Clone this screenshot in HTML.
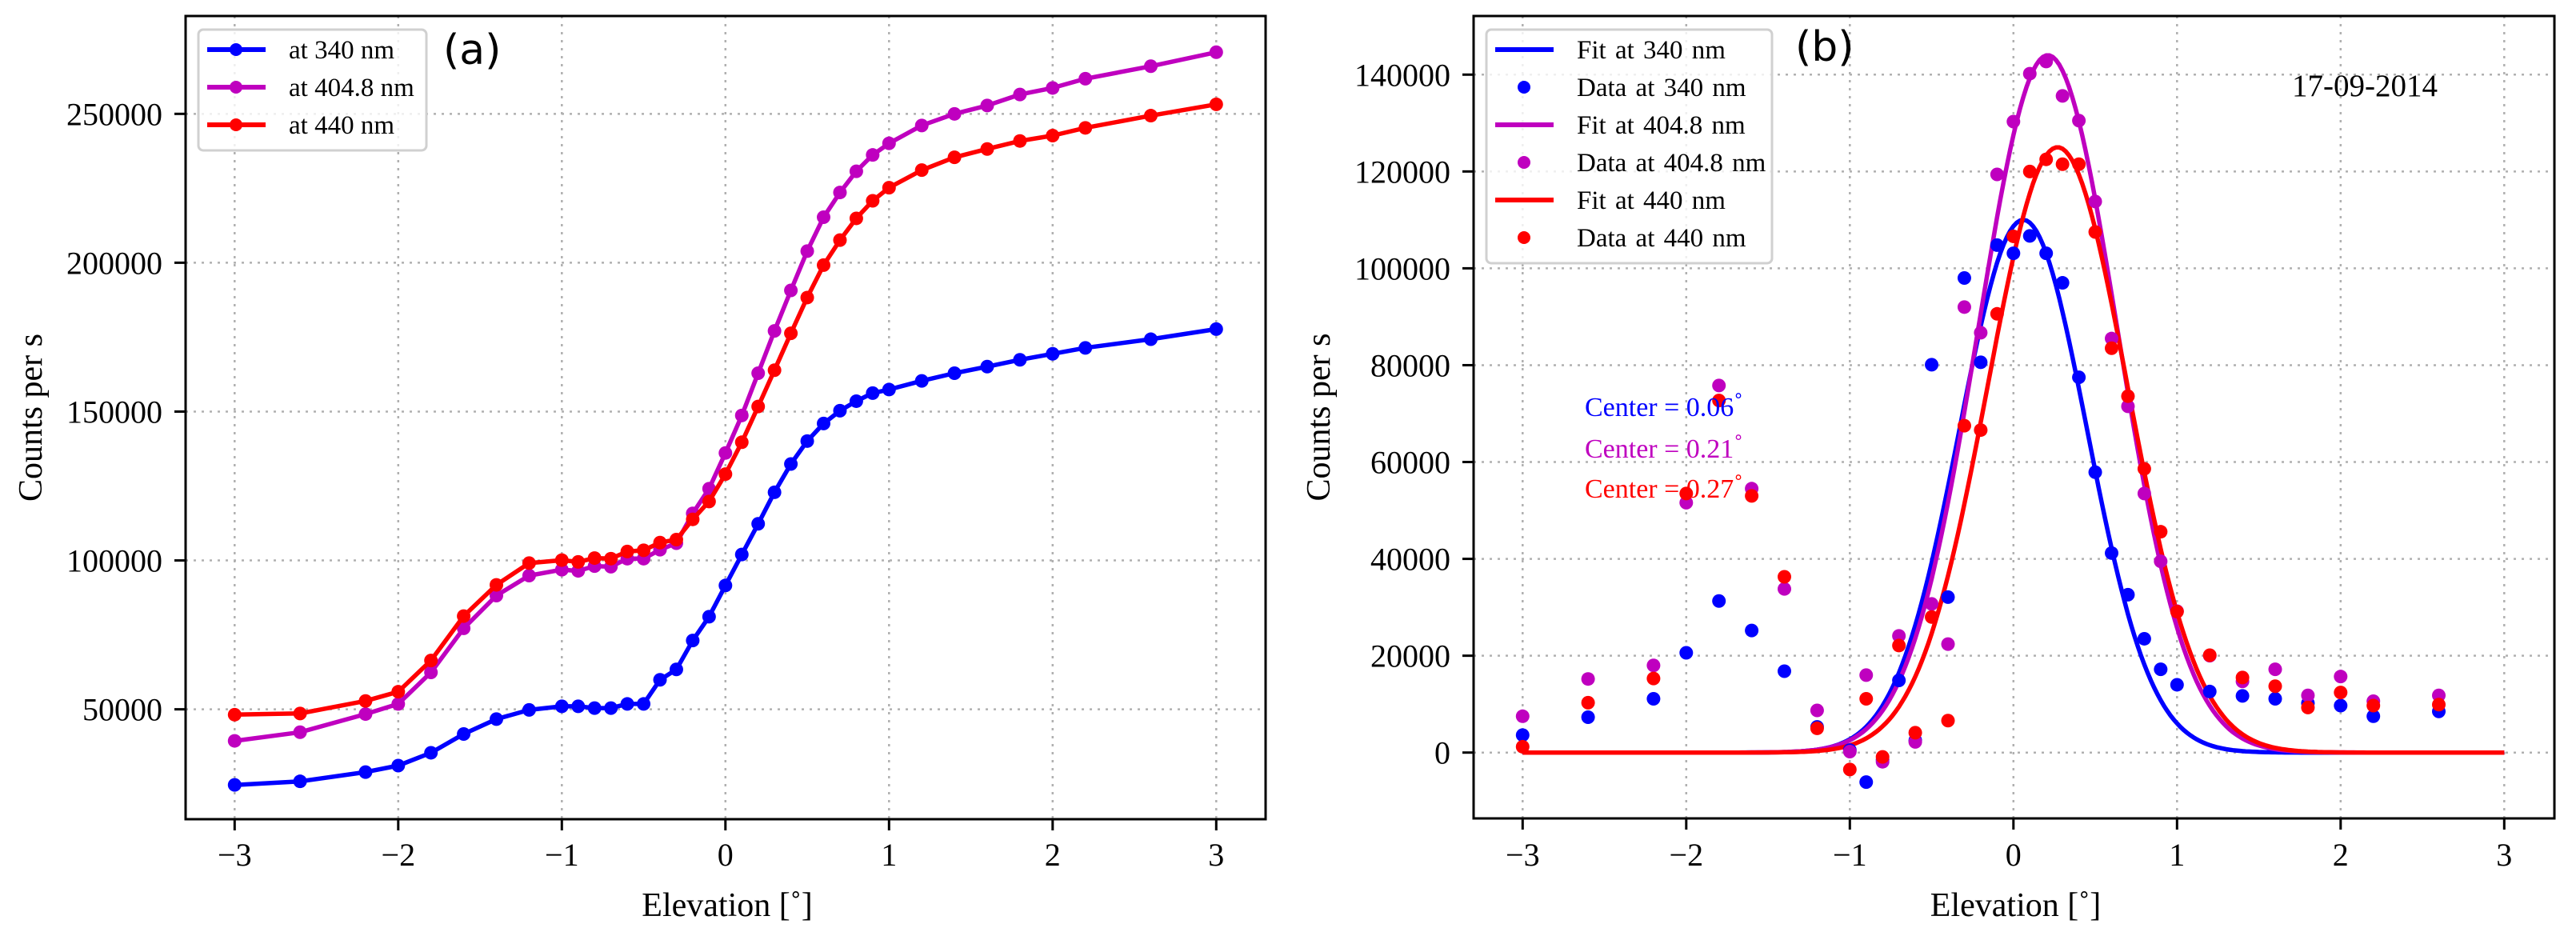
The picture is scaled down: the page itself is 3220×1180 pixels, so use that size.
<!DOCTYPE html>
<html><head><meta charset="utf-8">
<style>
html,body{margin:0;padding:0;background:#fff;}
svg{display:block;}
text{font-family:"Liberation Serif",serif;}
</style></head>
<body>
<svg id="fig" xmlns="http://www.w3.org/2000/svg" width="3220" height="1180" viewBox="0 0 3220 1180"></svg>
<script>
// ---------- Panel (a) data ----------
const xA = [-3,-2.6,-2.2,-2,-1.8,-1.6,-1.4,-1.2,-1,-0.9,-0.8,-0.7,-0.6,-0.5,-0.4,-0.3,-0.2,-0.1,0,0.1,0.2,0.3,0.4,0.5,0.6,0.7,0.8,0.9,1,1.2,1.4,1.6,1.8,2,2.2,2.6,3];
const blueA = [24.6,25.8,28.9,31.1,35.4,41.7,46.7,49.8,51.0,51.0,50.4,50.4,51.8,51.8,59.9,63.4,73.1,81.1,91.6,102,112.3,122.9,132.4,140.1,146,150.3,153.5,156.2,157.4,160.3,162.9,165.1,167.4,169.4,171.4,174.3,177.7];
const magentaA = [39.4,42.3,48.4,51.8,62.4,77.2,88.2,94.9,96.9,96.5,98.1,97.9,100.6,100.6,103.6,105.8,115.8,124.1,136.1,148.7,162.9,177.1,190.7,203.9,215.3,223.6,230.7,236.2,240.1,246.1,250,252.8,256.5,258.7,261.8,266,270.7];
const redA = [48.2,48.6,52.8,55.9,66.4,81.3,91.8,99.1,100.1,99.5,100.8,100.6,103,103.4,106,107,113.8,119.8,129,139.7,151.7,163.9,176.3,188.3,199.2,207.6,214.9,220.8,225.2,231.1,235.4,238.2,240.9,242.7,245.3,249.4,253.2];
const yTicksA = [50000,100000,150000,200000,250000];
const xTicks = [-3,-2,-1,0,1,2,3];
const xTickLabels = ["\u22123","\u22122","\u22121","0","1","2","3"];

// ---------- Panel (b) data ----------
const xB = [-3,-2.6,-2.2,-2,-1.8,-1.6,-1.4,-1.2,-1,-0.9,-0.8,-0.7,-0.6,-0.5,-0.4,-0.3,-0.2,-0.1,0,0.1,0.2,0.3,0.4,0.5,0.6,0.7,0.8,0.9,1,1.2,1.4,1.6,1.8,2,2.2,2.6];
const blueB = [3.6,7.3,11.1,20.6,31.3,25.2,16.8,5.3,0.5,-6.1,-1.5,14.9,2.5,80.1,32.1,98,80.6,104.8,103.1,106.7,103.1,97,77.5,57.9,41.2,32.6,23.5,17.2,14,12.6,11.7,11.1,10.2,9.7,7.5,8.5];
const magentaB = [7.5,15.2,18,51.6,75.8,54.5,33.8,8.7,0.2,16,-1.9,24.1,2.2,30.7,22.4,92,86.7,119.4,130.3,140.2,142.7,135.6,130.5,113.8,85.5,71.5,53.5,39.5,29.2,20,14.7,17.2,11.8,15.7,10.6,11.8];
const redB = [1.2,10.3,15.3,53.5,72.7,53,36.3,5,-3.5,11.1,-0.9,22.1,4.1,28,6.6,67.5,66.6,90.6,106.6,120,122.5,121.5,121.5,107.5,83.5,73.6,58.6,45.6,29.1,20.1,15.5,13.7,9.3,12.4,9.7,9.9];
// Gaussian fit parameters: amplitude (k counts), center (deg), sigma (deg)
const fitAmp = [110, 144, 125];
const fitCenter = [0.06, 0.21, 0.27];
const fitSigma = [0.39, 0.426, 0.427];
const yTicksB = [0,20000,40000,60000,80000,100000,120000,140000];

const NS = "http://www.w3.org/2000/svg";
const svg = document.getElementById('fig');
function mk(tag, attrs, parent){
  const e = document.createElementNS(NS, tag);
  for (const k in attrs) e.setAttribute(k, attrs[k]);
  (parent||svg).appendChild(e);
  return e;
}
const COLORS = ["#0000ff","#bf00bf","#ff0000"];

function panel(cfg){
  const g = mk('g', {});
  
  
  const X = v => cfg.x0 + (v + 3) * 204.5;
  const Y = v => cfg.y0 - v * cfg.ky;
  const grid = mk('g', {}, g);
  
  
  xTicks.forEach(t => {
    const l = mk('line', {x1:X(t), x2:X(t), y1:cfg.top, y2:cfg.bottom, stroke:'#b0b0b0', 'stroke-width':2.5, 'stroke-dasharray':'3,7'}, grid);
    
    
  });
  cfg.yTicks.forEach(t => {
    const l = mk('line', {x1:cfg.left, x2:cfg.right, y1:Y(t), y2:Y(t), stroke:'#b0b0b0', 'stroke-width':2.5, 'stroke-dasharray':'3,7'}, grid);
    
    
  });
  cfg.draw(g, X, Y);
  const box = mk('rect', {x:cfg.left, y:cfg.top, width:cfg.right-cfg.left, height:cfg.bottom-cfg.top, fill:'none', stroke:'#000', 'stroke-width':3}, g);
  
  
  xTicks.forEach((t,i) => {
    const l = mk('line', {x1:X(t), x2:X(t), y1:cfg.bottom, y2:cfg.bottom+14, stroke:'#000', 'stroke-width':3}, g);
    
    
    const tx = mk('text', {x:X(t), y:1082, 'font-size':40, 'text-anchor':'middle'}, g);
    tx.textContent = xTickLabels[i];
    
    
  });
  cfg.yTicks.forEach(t => {
    const l = mk('line', {x1:cfg.left-14, x2:cfg.left, y1:Y(t), y2:Y(t), stroke:'#000', 'stroke-width':3}, g);
    
    
    const tx = mk('text', {x:cfg.left-29, y:Y(t)+14, 'font-size':40, 'text-anchor':'end'}, g);
    tx.textContent = String(t);
    
    
  });
  const xl = mk('text', {x:(cfg.left+cfg.right)/2+2, y:1145, 'font-size':42, 'text-anchor':'middle'}, g);
  xl.textContent = 'Elevation [\u02DA]';
  
  
  const cy = (cfg.top+cfg.bottom)/2;
  const yl = mk('text', {x:cfg.left-180, y:cy, 'font-size':42, 'text-anchor':'middle', transform:`rotate(-90 ${cfg.left-180} ${cy})`}, g);
  yl.textContent = 'Counts per s';
  
  
  return g;
}

function legend(g, x, y, w, ws, entries){
  const lg = mk('g', {}, g);
  
  
  const h = entries.length * 47 + 10;
  mk('rect', {x:x, y:y, width:w, height:h, rx:6, fill:'rgba(255,255,255,0.8)', stroke:'#d0d0d0', 'stroke-width':3}, lg);
  entries.forEach((en, i) => {
    const ey = y + 25 + i * 47;
    const eg = mk('g', {}, lg);
    
    
    if (en.line) mk('line', {x1:x+11, x2:x+84, y1:ey, y2:ey, stroke:en.color, 'stroke-width':6}, eg);
    if (en.marker) mk('circle', {cx:x+47, cy:ey, r:8, fill:en.color}, eg);
    const t = mk('text', {x:x+113, y:ey+11, 'font-size':33, 'word-spacing':ws+'px'}, eg);
    t.textContent = en.label;
  });
}

panel({
  name:'panel-a', x0:293.3, y0:1072.7, ky:0.0037215, left:232, right:1582, top:20, bottom:1024,
  yTicks:yTicksA,
  draw:(g, X, Y) => {
    [[blueA,'series-340nm'],[magentaA,'series-404-8nm'],[redA,'series-440nm']].forEach(([arr,nm],si) => {
      const sg = mk('g', {}, g);
      
      
      const d = arr.map((v,i) => (i?'L':'M') + X(xA[i]).toFixed(1) + ' ' + Y(v*1000).toFixed(1)).join(' ');
      const p = mk('path', {d:d, fill:'none', stroke:COLORS[si], 'stroke-width':5.5, 'stroke-linejoin':'round'}, sg);
      
      
      arr.forEach((v,i) => {
        const c = mk('circle', {cx:X(xA[i]), cy:Y(v*1000), r:8.5, fill:COLORS[si]}, sg);
        
        
      });
    });
    legend(g, 248, 37, 285, 0, [
      {label:'at 340 nm', color:COLORS[0], line:true, marker:true},
      {label:'at 404.8 nm', color:COLORS[1], line:true, marker:true},
      {label:'at 440 nm', color:COLORS[2], line:true, marker:true}
    ]);
    const t = mk('text', {x:554, y:80, 'font-size':52, style:'font-family:"DejaVu Sans",sans-serif'}, g);
    t.textContent = '(a)';
    
    
  }
});

panel({
  name:'panel-b', x0:1903.3, y0:940.7, ky:0.006053, left:1842, right:3193, top:20, bottom:1023,
  yTicks:yTicksB,
  draw:(g, X, Y) => {
    const data = [blueB, magentaB, redB];
    const names = ['340nm','404-8nm','440nm'];
    for (let si=0; si<3; si++){
      const fg = mk('g', {}, g);
      
      
      let d = '';
      for (let k=0; k<=300; k++){
        const xv = -3 + k*6/300;
        const yv = fitAmp[si]*Math.exp(-Math.pow(xv-fitCenter[si],2)/(2*fitSigma[si]*fitSigma[si]));
        d += (k?'L':'M') + X(xv).toFixed(1) + ' ' + Y(yv*1000).toFixed(1) + ' ';
      }
      mk('path', {d:d, fill:'none', stroke:COLORS[si], 'stroke-width':5.5}, fg);
    }
    for (let si=0; si<3; si++){
      const dg = mk('g', {}, g);
      
      
      data[si].forEach((v,i) => {
        const c = mk('circle', {cx:X(xB[i]), cy:Y(v*1000), r:8.5, fill:COLORS[si]}, dg);
        
        
      });
    }
    legend(g, 1858, 37, 357, 3, [
      {label:'Fit at 340 nm', color:COLORS[0], line:true},
      {label:'Data at 340 nm', color:COLORS[0], marker:true},
      {label:'Fit at 404.8 nm', color:COLORS[1], line:true},
      {label:'Data at 404.8 nm', color:COLORS[1], marker:true},
      {label:'Fit at 440 nm', color:COLORS[2], line:true},
      {label:'Data at 440 nm', color:COLORS[2], marker:true}
    ]);
    const t = mk('text', {x:2244, y:76, 'font-size':52, style:'font-family:"DejaVu Sans",sans-serif'}, g);
    t.textContent = '(b)';
    
    
    const dt = mk('text', {x:3047, y:120, 'font-size':39, 'text-anchor':'end'}, g);
    dt.textContent = '17-09-2014';
    
    
    const cys = [520, 572, 622];
    for (let si=0; si<3; si++){
      const ct = mk('text', {x:1981, y:cys[si], 'font-size':34, fill:COLORS[si]}, g);
      ct.textContent = 'Center = ' + fitCenter[si].toFixed(2);
      
      
      const ts = mk('tspan', {dy:-4, 'font-size':34}, ct);
      ts.textContent = '\u02DA';
    }
  }
});
</script>
</body></html>
